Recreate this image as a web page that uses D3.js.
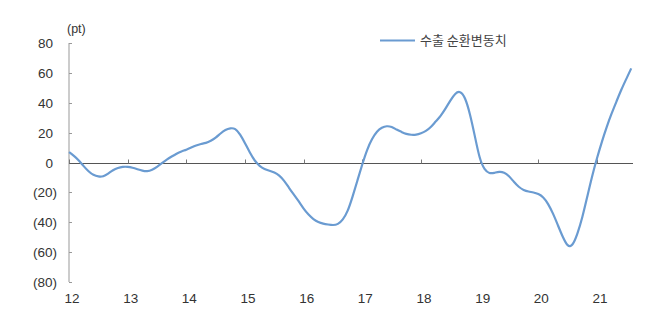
<!DOCTYPE html>
<html>
<head>
<meta charset="utf-8">
<script src="https://cdn.jsdelivr.net/npm/d3@7"></script>
<style>
  body { margin: 0; background: #fff; }
  svg text { font-family: "Liberation Sans", Arial, sans-serif; fill: #333; }
</style>
</head>
<body>
<svg width="654" height="311"></svg>
<script>
// monthly values, Jan 2012 .. Aug 2021
var startYear = 2012;
var exportCycle = [
  7, 4.5, 1.5, -2.5, -6, -8.5, -9.5, -9.5, -7.5, -5, -3.5, -2.8,        // 2012
  -2.8, -3.5, -4.5, -5.5, -6, -5, -3, -0.5, 2, 4, 6, 7.5,               // 2013
  8.5, 10, 11.5, 12.5, 13, 14.5, 16.5, 19.5, 22, 23, 23, 19,            // 2014
  13, 6.5, 1, -2.5, -4.5, -5.5, -6.5, -8.5, -12, -17, -21.5, -26,       // 2015
  -31, -35, -38, -40, -41, -41.5, -42, -41.5, -38.5, -33, -23, -12,     // 2016
  -1, 9, 16, 21, 23.5, 24.5, 24, 22, 20.5, 19, 18.5, 18.5,              // 2017
  19.5, 21, 23.5, 27.5, 31, 36, 41.5, 46.5, 48, 44, 33, 18,             // 2018
  2, -5, -7.5, -7, -6, -6.5, -9, -13, -16.5, -18.5, -19.5, -20,         // 2019
  -21, -23, -27.5, -34, -42, -50, -56.5, -56, -48, -37, -23, -9,        // 2020
  3, 14, 24, 33, 41, 49, 56, 63                                         // 2021
];
var yearTicks = [12, 13, 14, 15, 16, 17, 18, 19, 20, 21];
var valueTicks = [80, 60, 40, 20, 0, -20, -40, -60, -80];
var seriesName = "수출 순환변동치";
var unitLabel = "(pt)";

var data = exportCycle.map(function(v, i) { return { t: startYear + i / 12, v: v }; });

var svg = d3.select("svg");
var x0 = 69, y0 = 43, yb = 282;

var x = d3.scaleLinear().domain([2012, 2021]).range([x0, 597]);
var y = d3.scaleLinear().domain([-80, 80]).range([yb, y0]);

var fmt = function(d) { return d < 0 ? "(" + Math.abs(d) + ")" : String(d); };

// y axis line + inward ticks
svg.append("line").attr("x1", x0).attr("x2", x0).attr("y1", y(80)).attr("y2", y(-80))
  .attr("stroke", "#999").attr("stroke-width", 1);
svg.selectAll(".ytick").data(valueTicks).enter().append("line")
  .attr("x1", x0).attr("x2", x0 + 3)
  .attr("y1", function(d) { return Math.round(y(d)) + 0.5; })
  .attr("y2", function(d) { return Math.round(y(d)) + 0.5; })
  .attr("stroke", "#999");
svg.selectAll(".ylab").data(valueTicks).enter().append("text")
  .attr("x", function(d) { return d < 0 ? 57 : 53; })
  .attr("y", function(d) { return y(d) + 5; })
  .attr("text-anchor", "end")
  .style("font-size", "13.5px")
  .text(fmt);

// zero line (x axis)
svg.append("line").attr("x1", x0).attr("x2", 633)
  .attr("y1", Math.round(y(0)) + 0.5).attr("y2", Math.round(y(0)) + 0.5)
  .attr("stroke", "#555").attr("stroke-width", 1);
svg.selectAll(".xtick").data(yearTicks).enter().append("line")
  .attr("x1", function(d) { return Math.round(x(2000 + d)) + 0.5; })
  .attr("x2", function(d) { return Math.round(x(2000 + d)) + 0.5; })
  .attr("y1", Math.round(y(0)) + 0.5).attr("y2", Math.round(y(0)) - 3.5)
  .attr("stroke", "#777");
svg.selectAll(".xlab").data(yearTicks).enter().append("text")
  .attr("x", function(d) { return x(2000 + d) + 3; })
  .attr("y", 303)
  .attr("text-anchor", "middle")
  .style("font-size", "13.5px")
  .text(function(d) { return d; });

svg.append("text").attr("x", 67).attr("y", 33).style("font-size", "12.5px").text(unitLabel);

// series line
var line = d3.line()
  .x(function(d) { return x(d.t); })
  .y(function(d) { return y(d.v); })
  .curve(d3.curveBasis);
svg.append("path").datum(data)
  .attr("d", line)
  .attr("fill", "none")
  .attr("stroke", "#6a9bd1")
  .attr("stroke-width", 2.2)
  .attr("stroke-linejoin", "round");

// legend
svg.append("line").attr("x1", 380).attr("x2", 415).attr("y1", 40.5).attr("y2", 40.5)
  .attr("stroke", "#6a9bd1").attr("stroke-width", 2);
svg.append("text").attr("x", 420).attr("y", 45)
  .style("font-family", "'Noto Sans CJK KR', sans-serif")
  .style("font-size", "13px").style("fill", "#444")
  .text(seriesName);
</script>
</body>
</html>
